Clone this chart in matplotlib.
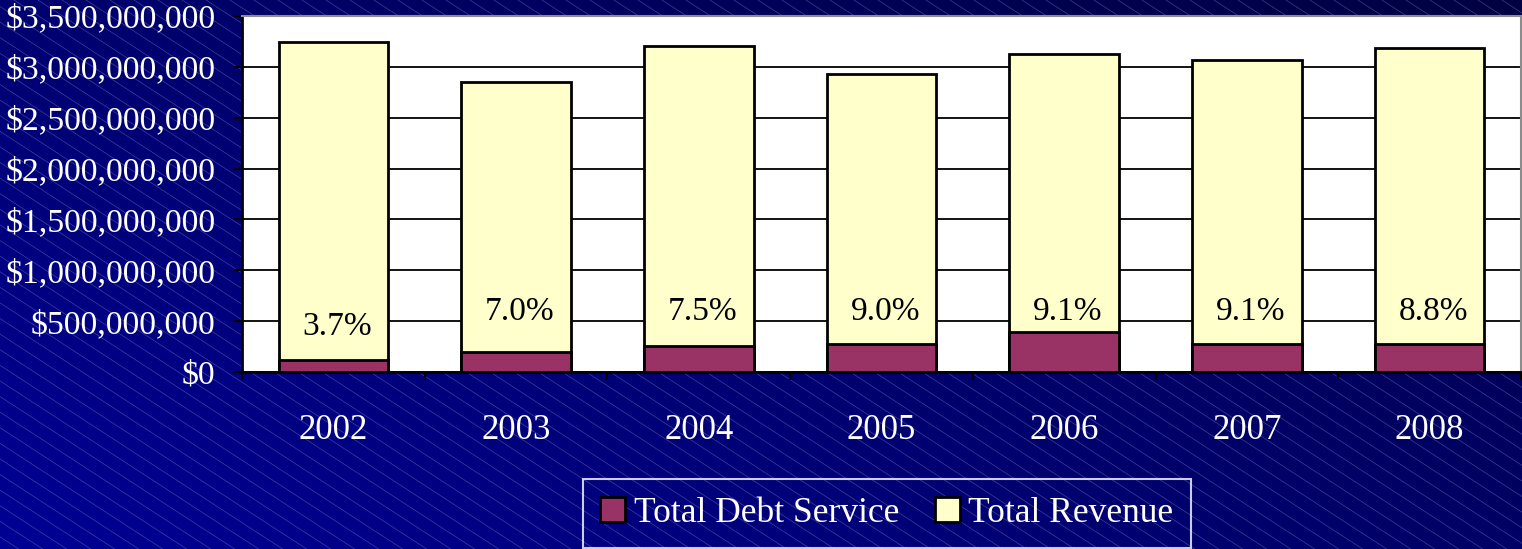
import numpy as np
import matplotlib
matplotlib.use("Agg")
import matplotlib.pyplot as plt
from matplotlib.patches import Patch
from matplotlib.ticker import FuncFormatter, FixedLocator

# Data (bar heights in dollars)
years = ["2002", "2003", "2004", "2005", "2006", "2007", "2008"]
total_revenue = [3.248e9, 2.854e9, 3.209e9, 2.930e9, 3.130e9, 3.068e9, 3.186e9]
debt_service = [0.115e9, 0.197e9, 0.256e9, 0.276e9, 0.391e9, 0.276e9, 0.276e9]
pct_labels = ["3.7%", "7.0%", "7.5%", "9.0%", "9.1%", "9.1%", "8.8%"]

plt.rcParams['font.family'] = ['Liberation Serif', 'DejaVu Serif']

W, H = 1522, 549
fig = plt.figure(figsize=(W / 100, H / 100), dpi=100)

# Background: navy gradient with thin diagonal hatch lines
bg = fig.add_axes([0, 0, 1, 1], zorder=-10)
gx, gy = np.meshgrid(np.linspace(0, 1, 300), np.linspace(0, 1, 120))
shade = 0.58 - 0.18 * gx - 0.14 * gy  # brighter at bottom-left
img = np.dstack([np.zeros_like(shade), np.zeros_like(shade), shade])
bg.imshow(img, extent=[0, W, 0, H], origin="lower", aspect="auto")
slope = 0.65
for x0 in np.arange(-W, W + H / slope, 24):
    bg.plot([x0, x0 + H / slope], [H, 0], color=(0.45, 0.45, 0.75), lw=0.5, alpha=0.55)
bg.set_xlim(0, W)
bg.set_ylim(0, H)
bg.axis("off")

# Main chart
ax = fig.add_axes([242 / W, 1 - 372 / H, (1521 - 242) / W, (372 - 16) / H])
ax.set_facecolor("white")
x = np.arange(len(years))
ax.bar(x, total_revenue, width=0.6, color="#FFFFCC", edgecolor="black", linewidth=2, zorder=3)
ax.bar(x, debt_service, width=0.6, color="#993366", edgecolor="black", linewidth=2, zorder=4)

label_y = [0.44e9] + [0.59e9] * 6
for xi, ly, txt in zip(x, label_y, pct_labels):
    ax.text(xi + 0.02, ly, txt, ha="center", va="center", fontsize=24, color="black", zorder=5)

ax.set_xlim(-0.5, len(years) - 0.5)
ax.set_ylim(0, 3.5e9)
ax.yaxis.set_major_locator(FixedLocator(np.arange(0, 3.5e9 + 1, 0.5e9)))
ax.yaxis.set_major_formatter(FuncFormatter(lambda v, p: "${:,.0f}".format(v)))
ax.grid(axis="y", color="black", linewidth=1.3, zorder=1)
ax.set_axisbelow(True)

ax.set_xticks(x)
ax.set_xticklabels(years)
ax.set_xticks(np.arange(-0.5, len(years)), minor=True)
ax.tick_params(axis="x", which="major", length=0, pad=30, labelsize=25, labelcolor="white")
ax.tick_params(axis="x", which="minor", length=6, width=1.5, direction="out", color="black")
ax.tick_params(axis="y", length=6, width=1.5, direction="out", color="black",
               pad=13, labelsize=24.3, labelcolor="white")

for side in ["left", "bottom"]:
    ax.spines[side].set_color("black")
    ax.spines[side].set_linewidth(2)
for side in ["top", "right"]:
    ax.spines[side].set_color("#8c8c8c")
    ax.spines[side].set_linewidth(1.5)

handles = [Patch(facecolor="#993366", edgecolor="black", linewidth=2, label="Total Debt Service"),
           Patch(facecolor="#FFFFCC", edgecolor="black", linewidth=2, label="Total Revenue")]
leg = fig.legend(handles=handles, loc="lower center", bbox_to_anchor=(887 / W, -0.03), ncol=2,
                 frameon=True, fontsize=25.5, handlelength=0.7, handleheight=0.7,
                 handletextpad=0.25, columnspacing=1.0, borderpad=0.5, fancybox=False)
leg.get_frame().set_facecolor("none")
leg.get_frame().set_edgecolor("white")
leg.get_frame().set_linewidth(1.5)
for t in leg.get_texts():
    t.set_color("white")

fig.savefig("out.png", dpi=100)
